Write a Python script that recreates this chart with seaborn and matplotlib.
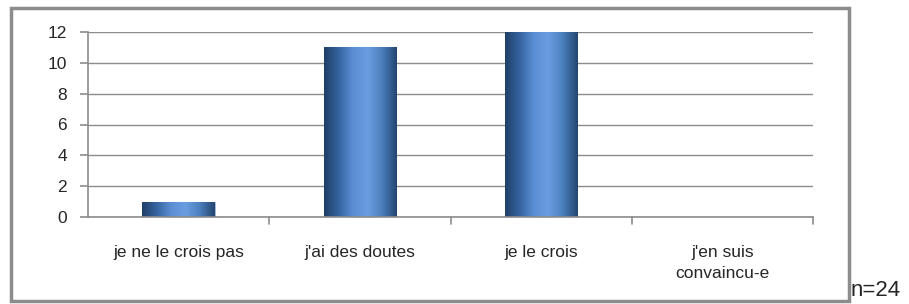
import numpy as np
import pandas as pd
import matplotlib.pyplot as plt
import matplotlib.patches as mpatches
from matplotlib.colors import LinearSegmentedColormap
import seaborn as sns

# answers to the question (counts)
categories = ['je ne le crois pas', "j'ai des doutes", 'je le crois', "j'en suis\nconvaincu-e"]
counts = [1, 11, 12, 0]
y_ticks = [0, 2, 4, 6, 8, 10, 12]
n_label = 'n=24'

df = pd.DataFrame({'answer': categories, 'count': counts})

sns.set_style('white')
plt.rcParams['font.family'] = ['Liberation Sans', 'DejaVu Sans']

fig = plt.figure(figsize=(9.09, 3.04), dpi=100)
ax = fig.add_axes([88 / 909, 1 - 217 / 304, (813 - 88) / 909, (217 - 32) / 304])

sns.barplot(data=df, x='answer', y='count', color='#4a7ebb', width=0.4, ax=ax)

# cylinder-like shading on each bar
shade = LinearSegmentedColormap.from_list(
    'cyl', ['#1f3f66', '#3564a0', '#5b8fd4', '#6a9de0', '#4a7ebb', '#23456f'])
grad = np.linspace(0, 1, 256).reshape(1, -1)
for p in ax.patches:
    x0, y0 = p.get_x(), p.get_y()
    w, h = p.get_width(), p.get_height()
    if h <= 0:
        continue
    im = ax.imshow(grad, cmap=shade, aspect='auto', extent=[x0, x0 + w, y0, y0 + h],
                   zorder=p.get_zorder() + 0.1, interpolation='bilinear')
    im.set_clip_path(p)
    p.set_edgecolor('#9fb7d6')
    p.set_linestyle(':')
    p.set_linewidth(0.8)

ax.set_xlim(-0.5, 3.5)
ax.set_ylim(0, 12)
ax.set_yticks(y_ticks)
ax.set_yticklabels([str(v) for v in y_ticks], fontsize=12.5)
ax.yaxis.grid(True, color='#8c8c8c', linewidth=1)
ax.set_axisbelow(True)
ax.set_xlabel('')
ax.set_ylabel('')

for s in ['top', 'right']:
    ax.spines[s].set_visible(False)
ax.spines['left'].set_color('#8c8c8c')
ax.spines['bottom'].set_color('#8c8c8c')
ax.spines['left'].set_linewidth(1.2)
ax.spines['bottom'].set_linewidth(1.2)

ax.tick_params(axis='y', left=True, length=6, color='#8c8c8c', width=1.2, pad=9)
# x ticks sit between the categories
ax.set_xticks([0, 1, 2, 3])
ax.set_xticklabels(categories, fontsize=12.5, linespacing=1.5)
ax.tick_params(axis='x', bottom=False, pad=17)
for xb in [0.5, 1.5, 2.5, 3.5]:
    ax.plot([xb, xb], [0, -0.45], color='#8c8c8c', lw=1.2, clip_on=False)

# outer frame of the chart
frame = mpatches.Rectangle((11 / 909, 1 - 301 / 304), (849 - 11) / 909, (301 - 8) / 304,
                           transform=fig.transFigure, fill=False,
                           edgecolor='#8c8c8c', linewidth=2.5)
fig.patches.append(frame)

fig.text(851 / 909, 1 - 290 / 304, n_label, fontsize=16, va='center', ha='left')

fig.savefig('out.png', dpi=100)
